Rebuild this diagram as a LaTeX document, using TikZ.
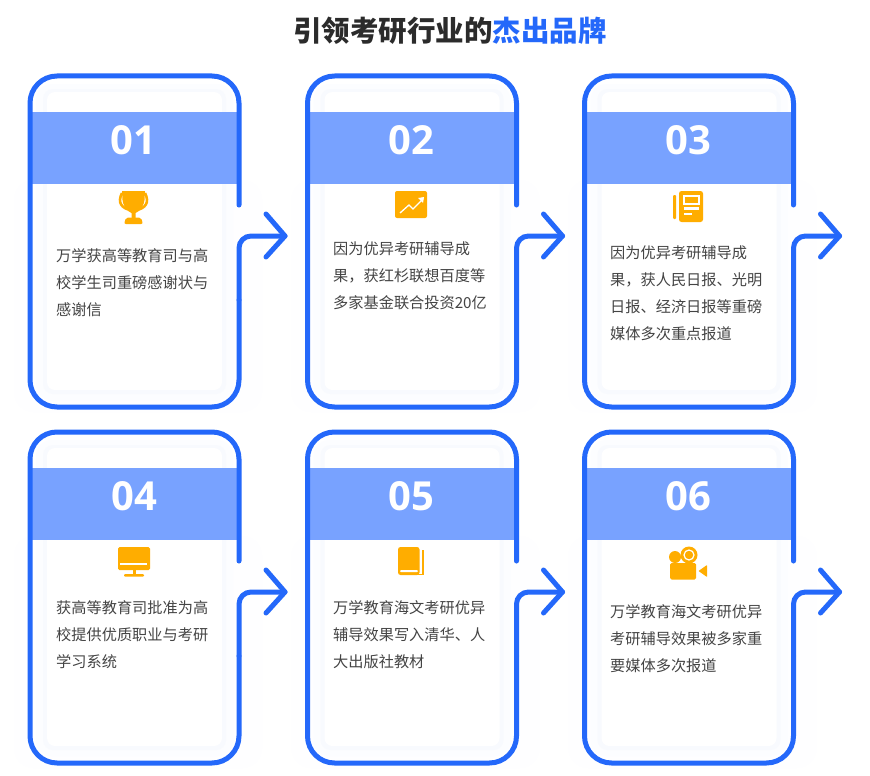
\documentclass[tikz,border=0pt]{standalone}
\usepackage{fontspec}
\setmainfont{Noto Sans CJK SC}
\newfontfamily\numfont{Open Sans}
\usetikzlibrary{positioning}
\definecolor{lineblue}{HTML}{2468FA}
\definecolor{bandblue}{HTML}{78A2FF}
\definecolor{iconorange}{HTML}{FFAD00}
\definecolor{paleblue}{HTML}{F8FAFE}
\definecolor{palerblue}{HTML}{FCFDFF}
\definecolor{palestblue}{HTML}{FEFEFF}
\definecolor{bodygray}{HTML}{444444}
\definecolor{titlegray}{HTML}{2B2B2B}

\begin{document}
\begin{tikzpicture}[x=1pt, y=-1pt,
  outline/.style={draw=lineblue, line width=5pt, line cap=round, line join=round},
  numlabel/.style={text=white, font=\numfont\bfseries\fontsize{40}{40}\selectfont, inner sep=0pt},
  bodytext/.style={anchor=north west, align=left, inner sep=0pt, text=bodygray, font=\fontsize{15.2}{27}\selectfont},
  cardframe/.pic={
    \fill[palestblue, rounded corners=20pt] (14,180) rectangle (262,412);
    \fill[palerblue, rounded corners=16pt] (36,84) rectangle (233,400);
    \fill[paleblue, rounded corners=10pt] (43,89) rectangle (226,394);
    \fill[white, rounded corners=8pt] (47,92) rectangle (222,390);
    \fill[bandblue] (30,112) rectangle (239,184);
    \coordinate (open) at (239,205);
    \coordinate (tip) at (285,236);
    \draw[outline, rounded corners=27pt] (open) -- (239,76) -- (30,76) -- (30,407) -- (239,407) -- (239,300);
    \draw[outline, rounded corners=12pt] (239,300) -- (239,236) -- (tip);
    \draw[outline] (266,214) -- (tip) -- (266,257);
  }]
\useasboundingbox (0,0) rectangle (870,776);
\fill[white] (0,0) rectangle (870,776);

\node[inner sep=0pt, font=\bfseries\fontsize{28.5}{30}\selectfont, text=titlegray] (title) at (450,31) {引领考研行业的\textcolor{lineblue}{杰出品牌}};

% top row
\pic (frameA) at (0,0) {cardframe};
\pic (frameB) at (277.5,0) {cardframe};
\pic (frameC) at (554.5,0) {cardframe};
% bottom row
\pic (frameD) at (0,356) {cardframe};
\pic (frameE) at (277.5,356) {cardframe};
\pic (frameF) at (554.5,356) {cardframe};

\node[numlabel] (numA) at (133,140) {01};
\node[numlabel] (numB) at (411,140) {02};
\node[numlabel] (numC) at (688,140) {03};
\node[numlabel] (numD) at (134,496) {04};
\node[numlabel] (numE) at (411,496) {05};
\node[numlabel] (numF) at (688,496) {06};

\node[bodytext] (textA) at (56,248) {万学获高等教育司与高\\校学生司重磅感谢状与\\感谢信};
\node[bodytext] (textB) at (333,242) {因为优异考研辅导成\\果，获红杉联想百度等\\多家基金联合投资20亿};
\node[bodytext] (textC) at (610,246) {因为优异考研辅导成\\果，获人民日报、光明\\日报、经济日报等重磅\\媒体多次重点报道};
\node[bodytext] (textD) at (56,600) {获高等教育司批准为高\\校提供优质职业与考研\\学习系统};
\node[bodytext] (textE) at (333,600) {万学教育海文考研优异\\辅导效果写入清华、人\\大出版社教材};
\node[bodytext] (textF) at (610,604) {万学教育海文考研优异\\考研辅导效果被多家重\\要媒体多次报道};

% trophy
\draw[iconorange, line width=2.6pt] (122,193) .. controls (117,203) and (122,208) .. (130,210);
\draw[iconorange, line width=2.6pt] (145,193) .. controls (150,203) and (145,208) .. (137,210);
\fill[iconorange] (122,191) -- (145,191) -- (144.5,200) .. controls (143.5,208) and (138,212) .. (135.5,213) -- (135.5,218) -- (131.5,218) -- (131.5,213) .. controls (129,212) and (123.5,208) .. (122.5,200) -- cycle;
\fill[iconorange, rounded corners=2pt] (124,224) -- (126,217.5) -- (141,217.5) -- (143,224) -- cycle;

% chart
\fill[iconorange, rounded corners=2pt] (395,191) rectangle (427,218);
\draw[white, line width=1.3pt] (400,213) -- (409,205) -- (413,209) -- (423,199);
\fill[white] (418,198) -- (424,197) -- (423,203) -- cycle;

% newspaper
\fill[iconorange, rounded corners=1pt] (673,195) rectangle (676,219);
\fill[iconorange, rounded corners=2.5pt] (679,191) rectangle (703,222);
\draw[white, line width=1.3pt] (684,196) rectangle (699,204);
\fill[white] (684,207) rectangle (699,209.5);
\fill[white] (684,212.5) rectangle (691.5,215);

% monitor
\fill[iconorange, rounded corners=1.5pt] (118,547) rectangle (150,570);
\fill[white] (120,562.5) rectangle (147,565);
\fill[iconorange] (132.5,570) rectangle (135.5,574);
\fill[iconorange, rounded corners=1pt] (124,574) rectangle (144,576.5);

% book
\fill[iconorange, rounded corners=2.5pt] (398,547) rectangle (419.5,575);
\draw[iconorange, line width=1.3pt] (423,550) -- (423,574.5) -- (403,574.5);
\fill[white, rounded corners=1pt] (400,570) rectangle (418,572);

% camera
\fill[iconorange] (689,555) circle [radius=8.5];
\draw[white, line width=1.2pt] (689,555) circle [radius=5];
\fill[iconorange] (675,557) circle [radius=6];
\fill[iconorange, rounded corners=1.5pt] (670,563) rectangle (696,579.5);
\fill[iconorange, rounded corners=0.5pt] (698.5,571) -- (707,565) -- (707,577) -- cycle;
\end{tikzpicture}
\end{document}
